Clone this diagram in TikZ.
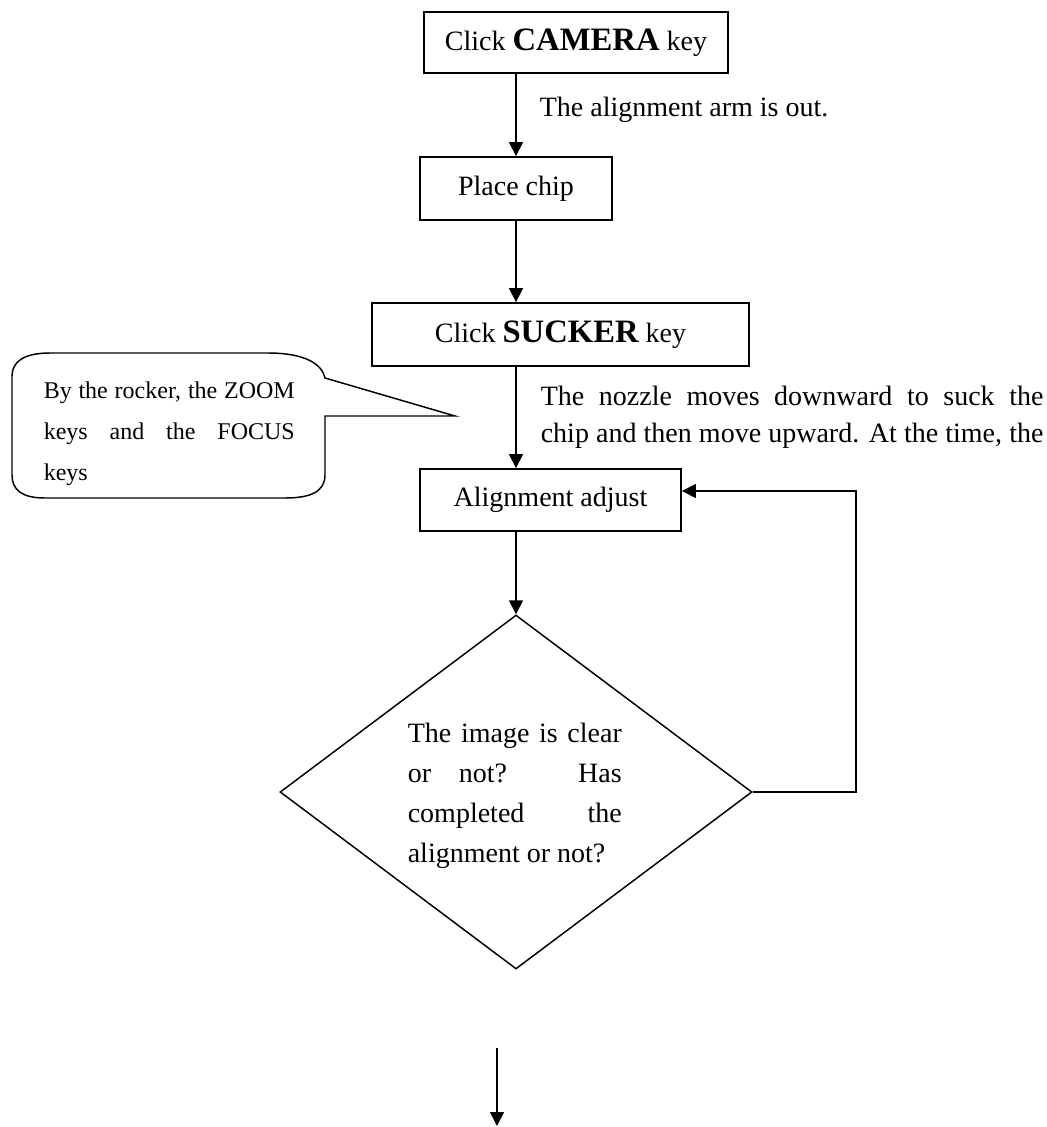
\documentclass[tikz,border=0pt]{standalone}
\usepackage{fontspec}
\setmainfont{Liberation Serif}
\usetikzlibrary{arrows.meta,shapes.geometric}
\begin{document}
\begin{tikzpicture}[x=0.75pt,y=-0.75pt,
  line width=1.2pt,
  box/.style={draw,rectangle,line width=1.4pt,inner sep=0pt,font=\fontsize{21}{25}\selectfont},
  arr/.style={line width=1.2pt,-{Triangle[length=10.5pt,width=10.5pt]}},
  txt/.style={inner sep=0pt,font=\fontsize{21}{30}\selectfont,align=left},
  btxt/.style={inner sep=0pt,font=\fontsize{18}{30.75}\selectfont,align=left}]
\useasboundingbox (0,0) rectangle (1046,1127);
\newcommand{\bk}[1]{{\fontsize{24.5}{25}\selectfont\bfseries #1}}
% nodes
\node[box,minimum width=228pt,minimum height=45.75pt] (cam) at (576,42.5) {Click \bk{CAMERA} key};
\node[box,minimum width=144pt,minimum height=47.25pt] (place) at (516,188.5) {Place chip};
\node[box,minimum width=282.75pt,minimum height=47.25pt] (sucker) at (560.5,334.5) {Click \bk{SUCKER} key};
\node[box,minimum width=195.75pt,minimum height=46.5pt] (align) at (550.5,500) {Alignment adjust};
\node[draw,diamond,line width=1.1pt,inner sep=0pt,minimum width=354pt,minimum height=265.5pt] (dia) at (516,792) {};
\node[txt,anchor=base west] (diatext) at (407,862) {\makebox[160.5pt][s]{The image is clear}\\\makebox[160.5pt][s]{or not? Has}\\\makebox[160.5pt][s]{completed the}\\alignment or not?};
% labels
\node[txt,anchor=base west] (lab1) at (539,117) {The alignment arm is out.};
\node[txt,anchor=base west,font=\fontsize{21}{27.75}\selectfont] (lab2) at (540,442) {\makebox[377pt][s]{The nozzle moves downward to suck the}\\\makebox[377pt][s]{chip and then move upward. At the time, the}};
% bubble
\draw[line width=1.1pt] (455,416) -- (325,416) -- (325,475) .. controls (325,492) and (310,498) .. (285,498) -- (45,498) .. controls (22,498) and (12,490) .. (12,475) -- (12,376) .. controls (12,361) and (25,353) .. (50,353) -- (268,353) .. controls (305,353) and (322,364) .. (325,378) -- cycle;
\node[btxt,anchor=base west] (bubtext) at (43,480) {\makebox[188.25pt][s]{By the rocker, the ZOOM}\\\makebox[188.25pt][s]{keys and the FOCUS}\\keys};
% connectors
\draw[arr] (cam.south -| place.north) -- (place.north);
\draw[arr] (place.south) -- (sucker.north -| place.south);
\draw[arr] (sucker.south -| place.south) -- (align.north -| place.south);
\draw[arr] (align.south -| dia.north) -- (dia.north);
\coordinate (loopTop) at (856,491);
\draw[arr] (dia.east) -| (loopTop) -- (align.east |- loopTop);
\coordinate (endA) at (497,1048);
\coordinate (endB) at (497,1126);
\draw[arr] (endA) -- (endB);
\end{tikzpicture}
\end{document}
